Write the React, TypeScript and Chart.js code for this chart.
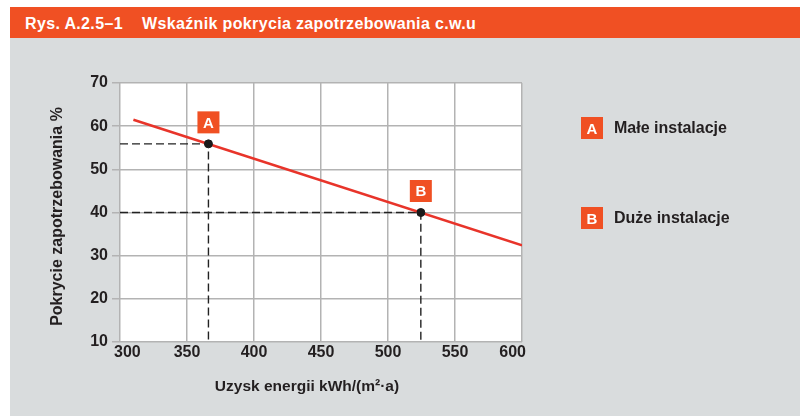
import React, { useEffect, useRef } from "react";
import { Chart, registerables } from "chart.js";

Chart.register(...registerables);

const TITLE = "Rys. A.2.5–1\u00a0\u00a0\u00a0\u00a0Wskaźnik pokrycia zapotrzebowania c.w.u";
const X_TITLE = "Uzysk energii kWh/(m²·a)";
const Y_TITLE = "Pokrycie zapotrzebowania %";
const X_TICKS = [300, 350, 400, 450, 500, 550, 600];
const Y_TICKS = [10, 20, 30, 40, 50, 60, 70];

// red trend line endpoints (x: kWh/(m²·a), y: %)
const LINE_X = [310, 600];
const LINE_Y = [61.5, 32.4];

// marked points
const POINT_LABELS = ["A", "B"];
const POINT_X = [366, 524.5];
const POINT_Y = [55.9, 40];
const LEGEND_TEXT = ["Małe instalacje", "Duże instalacje"];

const ORANGE = "#f05023";
const GRAY_BG = "#d9dcdd";
const TEXT = "#231f20";
const GRID = "#b3b3b3";
const FONT = "'Liberation Sans', Arial, sans-serif";

export default function App() {
  const ref = useRef<HTMLCanvasElement | null>(null);

  useEffect(() => {
    const canvas = ref.current;
    if (!canvas) return;
    const xMin = X_TICKS[0];
    const yMin = Y_TICKS[0];

    const guideSets = POINT_X.map((px, i) => ({
      type: "line" as const,
      data: [
        { x: xMin, y: POINT_Y[i] },
        { x: px, y: POINT_Y[i] },
        { x: px, y: yMin },
      ],
      borderColor: "#222",
      borderWidth: 1.4,
      borderDash: [8, 4],
      pointRadius: 0,
      fill: false,
      order: 3,
    }));

    const bgPlugin = {
      id: "bgPlugin",
      beforeDraw(chart: any) {
        const { ctx, chartArea } = chart;
        ctx.save();
        ctx.fillStyle = "#ffffff";
        ctx.fillRect(chartArea.left, chartArea.top, chartArea.right - chartArea.left, chartArea.bottom - chartArea.top);
        ctx.restore();
      },
    };

    const labelPlugin = {
      id: "labelPlugin",
      afterDatasetsDraw(chart: any) {
        const { ctx, scales, chartArea } = chart;
        ctx.save();
        // point label boxes
        POINT_X.forEach((px, i) => {
          const cx = scales.x.getPixelForValue(px);
          const cy = scales.y.getPixelForValue(POINT_Y[i]);
          const size = 22;
          const bottom = cy - 10.5;
          ctx.fillStyle = ORANGE;
          ctx.fillRect(cx - size / 2, bottom - size, size, size);
          ctx.fillStyle = "#ffffff";
          ctx.font = `bold 15px ${FONT}`;
          ctx.textAlign = "center";
          ctx.textBaseline = "middle";
          ctx.fillText(POINT_LABELS[i], cx, bottom - size / 2 + 1);
        });
        // x tick labels, kept inside the plot edges
        ctx.fillStyle = TEXT;
        ctx.font = `bold 16px ${FONT}`;
        ctx.textAlign = "center";
        ctx.textBaseline = "middle";
        X_TICKS.forEach((v) => {
          const label = String(v);
          const w = ctx.measureText(label).width;
          let cx = scales.x.getPixelForValue(v);
          cx = Math.max(cx, chartArea.left + w / 2 - 6);
          cx = Math.min(cx, chartArea.right - w / 2 + 4);
          ctx.fillText(label, cx, chartArea.bottom + 11);
        });
        // axis titles
        ctx.font = `bold 15.5px ${FONT}`;
        ctx.fillText(X_TITLE, (chartArea.left + chartArea.right) / 2 - 14, chartArea.bottom + 45);
        ctx.save();
        ctx.translate(58, (chartArea.top + chartArea.bottom) / 2 + 4);
        ctx.rotate(-Math.PI / 2);
        ctx.font = `bold 16px ${FONT}`;
        ctx.fillText(Y_TITLE, 0, 0);
        ctx.restore();
        ctx.restore();
      },
    };

    const chart = new Chart(canvas, {
      type: "line",
      data: {
        datasets: [
          {
            type: "scatter" as const,
            data: POINT_X.map((x, i) => ({ x, y: POINT_Y[i] })),
            pointRadius: 4,
            pointBackgroundColor: "#1a1a1a",
            pointBorderColor: "#1a1a1a",
            showLine: false,
            order: 0,
          },
          {
            type: "line" as const,
            data: LINE_X.map((x, i) => ({ x, y: LINE_Y[i] })),
            borderColor: "#e8342a",
            borderWidth: 2.6,
            pointRadius: 0,
            fill: false,
            order: 1,
          },
          ...guideSets,
        ] as any,
      },
      options: {
        animation: false,
        responsive: false,
        events: [],
        layout: { padding: { left: 0, right: 278, top: 83, bottom: 0 } },
        plugins: {
          legend: { display: false },
          tooltip: { enabled: false },
          title: { display: false },
        },
        scales: {
          x: {
            type: "linear",
            min: X_TICKS[0],
            max: X_TICKS[X_TICKS.length - 1],
            afterFit(scale: any) {
              scale.height = 74;
            },
            afterBuildTicks(scale: any) {
              scale.ticks = X_TICKS.map((v) => ({ value: v }));
            },
            grid: { color: GRID, lineWidth: 1.5, drawTicks: false },
            border: { display: false },
            ticks: { display: false },
          },
          y: {
            type: "linear",
            min: Y_TICKS[0],
            max: Y_TICKS[Y_TICKS.length - 1],
            afterFit(scale: any) {
              scale.width = 120;
            },
            afterBuildTicks(scale: any) {
              scale.ticks = Y_TICKS.map((v) => ({ value: v }));
            },
            grid: { color: GRID, lineWidth: 1.5, drawTicks: true, tickLength: 8 },
            border: { display: false },
            ticks: {
              padding: 4,
              color: TEXT,
              font: { family: FONT, size: 16, weight: "bold" },
            },
          },
        },
      },
      plugins: [bgPlugin, labelPlugin],
    });
    return () => chart.destroy();
  }, []);

  return (
    <div style={{ position: "fixed", left: 0, top: 0, width: 800, height: 416, background: "#ffffff", overflow: "hidden" }}>
      <div
        style={{
          position: "absolute",
          left: 10,
          top: 7,
          width: 790,
          height: 31,
          background: ORANGE,
          color: "#ffffff",
          fontFamily: FONT,
          fontWeight: "bold",
          fontSize: 16,
          letterSpacing: "0.35px",
          lineHeight: "33px",
          paddingLeft: 15,
          boxSizing: "border-box",
          whiteSpace: "pre",
        }}
      >
        {TITLE}
      </div>
      <div style={{ position: "absolute", left: 10, top: 38, width: 790, height: 378, background: GRAY_BG }} />
      <canvas ref={ref} width={800} height={416} style={{ position: "absolute", left: 0, top: 0, width: 800, height: 416 }} />
      {POINT_LABELS.map((lab, i) => (
        <div key={lab} style={{ position: "absolute", left: 581, top: i === 0 ? 117 : 207, height: 22, display: "flex", alignItems: "center" }}>
          <div
            style={{
              width: 22,
              height: 22,
              background: ORANGE,
              color: "#fff",
              fontFamily: FONT,
              fontWeight: "bold",
              fontSize: 15,
              lineHeight: "23px",
              textAlign: "center",
            }}
          >
            {lab}
          </div>
          <div style={{ marginLeft: 11, fontFamily: FONT, fontWeight: "bold", fontSize: 16, color: TEXT, whiteSpace: "nowrap" }}>
            {LEGEND_TEXT[i]}
          </div>
        </div>
      ))}
    </div>
  );
}
